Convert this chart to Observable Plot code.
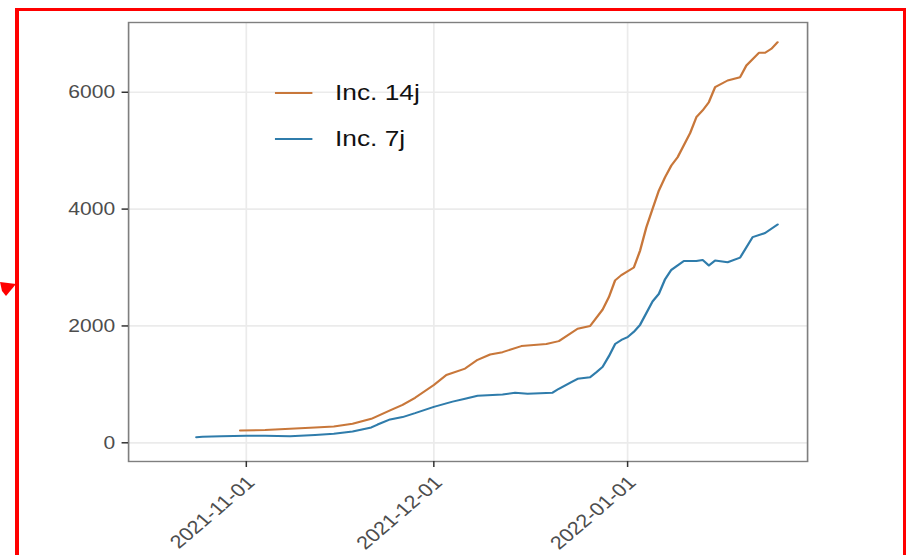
<!DOCTYPE html>
<html>
<head>
<meta charset="utf-8">
<script src="https://cdn.jsdelivr.net/npm/d3@7"></script>
<script src="https://cdn.jsdelivr.net/npm/@observablehq/plot@0.6"></script>
<style>
  html, body { margin: 0; padding: 0; background: #fff; width: 907px; height: 555px; overflow: hidden;
    font-family: "Liberation Sans", Arial, Helvetica, sans-serif; }
  #stage { position: absolute; left: 0; top: 0; height: 555px; transform-origin: 0 0; }
  #chart svg { display: block; }
  .leg-line { position: absolute; height: 2px; }
  .leg-text { position: absolute; font-size: 22.5px; line-height: 26px; color: #111; white-space: nowrap; }
  #frame { position: absolute; left: 15px; top: 8px; width: 891px; height: 620px; box-sizing: border-box;
    border-left: 4px solid #ff0000; border-top: 3.5px solid #ff0000; border-right: 3.5px solid #ff0000; }
  #arrow { position: absolute; left: 0; top: 276px; }
</style>
</head>
<body>
<div id="stage"><div id="chart"></div><div id="legend"></div></div>
<div id="frame"></div>
<svg id="arrow" width="20" height="24"><polygon points="0,6 16,8 6,20 2,15" fill="#ff0000"/></svg>
<script>
// ---- data ----
const seriesNames = ["Inc. 14j", "Inc. 7j"];
const seriesColors = ["#c8773a", "#2f7cab"];

const orangeDates = ["2021-10-31","2021-11-04","2021-11-08","2021-11-12","2021-11-15","2021-11-18","2021-11-21",
  "2021-11-24","2021-11-26","2021-11-28","2021-12-01","2021-12-03","2021-12-06","2021-12-08","2021-12-10",
  "2021-12-12","2021-12-15","2021-12-19","2021-12-21","2021-12-24","2021-12-26","2021-12-28","2021-12-29",
  "2021-12-30","2021-12-31","2022-01-02","2022-01-03","2022-01-04","2022-01-05","2022-01-06","2022-01-07",
  "2022-01-08","2022-01-09","2022-01-11","2022-01-12","2022-01-13","2022-01-14","2022-01-15","2022-01-17",
  "2022-01-19","2022-01-20","2022-01-22","2022-01-23","2022-01-24","2022-01-25"];
const orangeValues = [211,220,239,262,279,325,411,
  553,650,770,990,1160,1270,1420,1511,
  1551,1655,1690,1740,1951,2000,2280,2492,
  2780,2870,3000,3290,3690,4005,4318,4546,
  4746,4888,5300,5573,5688,5830,6087,6201,
  6258,6458,6675,6675,6744,6857];

const blueDates = ["2021-10-24","2021-10-25","2021-10-28","2021-11-01","2021-11-04","2021-11-08","2021-11-12",
  "2021-11-15","2021-11-18","2021-11-21","2021-11-22","2021-11-24","2021-11-26","2021-11-28","2021-12-01",
  "2021-12-04","2021-12-06","2021-12-08","2021-12-12","2021-12-14","2021-12-16","2021-12-20","2021-12-21",
  "2021-12-23","2021-12-24","2021-12-26","2021-12-27","2021-12-28","2021-12-29","2021-12-30","2021-12-31",
  "2022-01-01","2022-01-02","2022-01-03","2022-01-05","2022-01-06","2022-01-07","2022-01-08","2022-01-10",
  "2022-01-12","2022-01-13","2022-01-14","2022-01-15","2022-01-17","2022-01-19","2022-01-21","2022-01-23",
  "2022-01-25"];
const blueValues = [96,105,110,120,122,113,135,
  154,193,262,313,400,440,507,615,
  705,753,804,825,856,839,858,924,
  1037,1095,1123,1208,1300,1480,1690,1760,
  1808,1900,2020,2420,2550,2800,2960,3110,
  3110,3130,3035,3120,3091,3170,3520,3590,
  3737];

const yTicks = [0, 2000, 4000, 6000];
const xTickLabels = ["2021-11-01", "2021-12-01", "2022-01-01"];
const xDomain = ["2021-10-13T04:00", "2022-01-29T19:00"];
const yDomain = [-320, 7194];

// ---- build ----
const S = 1.17;           // horizontal stretch of the reference image
const W = 907 / S;
const parse = d3.utcParse("%Y-%m-%d");
const parseT = d3.utcParse("%Y-%m-%dT%H:%M");
const fmt = d3.utcFormat("%Y-%m-%d");

const rows = [
  ...orangeDates.map((d, i) => ({date: parse(d), value: orangeValues[i], series: seriesNames[0]})),
  ...blueDates.map((d, i) => ({date: parse(d), value: blueValues[i], series: seriesNames[1]}))
];
const xTicks = xTickLabels.map(parse);

const chart = Plot.plot({
  width: W,
  height: 555,
  marginLeft: 128 / S,
  marginRight: (907 - 807) / S,
  marginTop: 22,
  marginBottom: 94,
  style: {fontFamily: "'Liberation Sans', Arial, sans-serif", background: "transparent", overflow: "visible"},
  x: {type: "utc", domain: xDomain.map(parseT)},
  y: {domain: yDomain},
  color: {domain: seriesNames, range: seriesColors},
  marks: [
    Plot.gridY(yTicks, {stroke: "#ebebeb", strokeOpacity: 1, strokeWidth: 1.7}),
    Plot.gridX(xTicks, {stroke: "#ebebeb", strokeOpacity: 1, strokeWidth: 1.7 / S}),
    Plot.line(rows, {x: "date", y: "value", z: "series", stroke: "series", strokeWidth: 2, curve: "linear"}),
    Plot.frame({stroke: "#7f7f7f", strokeWidth: 1.4}),
    Plot.axisY(yTicks, {tickFormat: d => String(d), tickSize: 5.5, tickPadding: 6, fontSize: 18,
      fill: "#4d4d4d", stroke: "#333", strokeWidth: 1.5, label: null}),
    // x tick marks
    Plot.axisX(xTicks, {tickFormat: () => "", tickSize: 6, stroke: "#333", strokeWidth: 1.5 / S, label: null}),
    // x tick labels (rotated)
    Plot.axisX(xTicks, {tickFormat: fmt, tickRotate: -45, tickSize: 0, tickPadding: 18, dx: 4, fontSize: 18.5,
      fill: "#4d4d4d", label: null})
  ]
});
document.getElementById("chart").appendChild(chart);

const stage = document.getElementById("stage");
stage.style.width = W + "px";
stage.style.transform = `scaleX(${S})`;

// legend (inside panel, as in the reference)
const legend = document.getElementById("legend");
const legRows = [93.3, 139];
seriesNames.forEach((name, i) => {
  const line = document.createElement("div");
  line.className = "leg-line";
  line.style.left = (275 / S) + "px";
  line.style.width = (37 / S) + "px";
  line.style.top = (legRows[i] - 1) + "px";
  line.style.background = seriesColors[i];
  legend.appendChild(line);
  const t = document.createElement("div");
  t.className = "leg-text";
  t.style.left = (335 / S) + "px";
  t.style.top = (legRows[i] - 13) + "px";
  t.textContent = name;
  legend.appendChild(t);
});
</script>
</body>
</html>
